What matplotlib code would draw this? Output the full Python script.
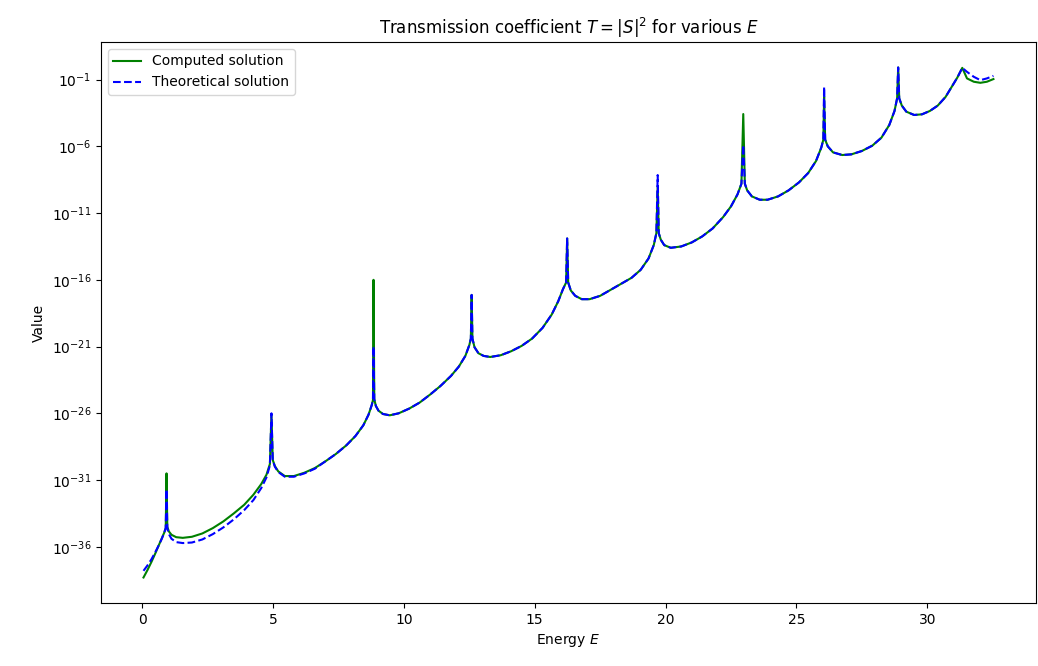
import numpy as np
import matplotlib.pyplot as plt
from matplotlib.ticker import NullLocator

# energies sampled for both curves (denser around the resonances)
energy = [0.05, 0.20, 0.35, 0.50, 0.63, 0.75, 0.84, 0.90, 0.93, 0.96,
          1.02, 1.12, 1.30, 1.55, 1.90, 2.30, 2.70, 3.10, 3.50, 3.90,
          4.25, 4.55, 4.75, 4.88, 4.94, 4.99, 5.07, 5.20, 5.45, 5.80,
          6.20, 6.60, 7.00, 7.40, 7.80, 8.15, 8.45, 8.65, 8.77, 8.82,
          8.84, 8.87, 8.93, 9.03, 9.20, 9.46, 9.80, 10.2, 10.6, 11.0,
          11.4, 11.8, 12.1, 12.35, 12.5, 12.56, 12.59, 12.62, 12.7, 12.85,
          13.05, 13.3, 13.7, 14.1, 14.5, 14.9, 15.3, 15.65, 15.9, 16.08,
          16.2, 16.24, 16.28, 16.38, 16.55, 16.8, 17.1, 17.5, 17.9, 18.3,
          18.7, 19.05, 19.35, 19.55, 19.65, 19.70, 19.74, 19.82, 19.95, 20.2,
          20.6, 21.0, 21.4, 21.8, 22.2, 22.5, 22.75, 22.9, 22.97, 23.03,
          23.12, 23.3, 23.6, 23.9, 24.3, 24.7, 25.1, 25.45, 25.75, 25.95,
          26.03, 26.06, 26.10, 26.2, 26.4, 26.75, 27.1, 27.5, 27.9, 28.25,
          28.55, 28.75, 28.85, 28.89, 28.93, 29.03, 29.2, 29.5, 29.8, 30.1,
          30.4, 30.7, 30.95, 31.15, 31.34, 31.52, 31.78, 32.03, 32.28, 32.53]

# log10 of T = |S|^2, numerical result
log_T_computed = [-38.3, -37.75, -37.15, -36.5, -35.9, -35.35, -34.95, -34.6, -30.5, -34.5,
                  -34.85, -35.1, -35.28, -35.33, -35.25, -35.0, -34.6, -34.1, -33.5, -32.85,
                  -32.1, -31.3, -30.6, -29.8, -26.1, -29.5, -29.95, -30.35, -30.7, -30.7,
                  -30.45, -30.1, -29.6, -29.05, -28.4, -27.7, -26.9, -26.1, -25.4, -25.0,
                  -16.0, -24.95, -25.45, -25.8, -26.05, -26.15, -26.0, -25.65, -25.2, -24.6,
                  -23.95, -23.2, -22.5, -21.7, -20.9, -20.4, -17.13, -20.4, -21.05, -21.5,
                  -21.7, -21.78, -21.65, -21.35, -20.95, -20.4, -19.6, -18.6, -17.6, -16.7,
                  -16.2, -12.9, -16.2, -16.8, -17.2, -17.45, -17.45, -17.2, -16.75, -16.3,
                  -15.85, -15.25, -14.4, -13.4, -12.5, -9.0, -12.5, -13.0, -13.4, -13.6,
                  -13.5, -13.2, -12.75, -12.15, -11.3, -10.5, -9.6, -8.8, -3.58, -8.8,
                  -9.3, -9.75, -10.0, -10.0, -9.75, -9.3, -8.7, -8.0, -7.1, -6.1,
                  -5.5, -2.29, -5.5, -6.0, -6.45, -6.65, -6.6, -6.35, -5.95, -5.35,
                  -4.4, -3.35, -2.4, -0.09, -2.4, -2.95, -3.4, -3.65, -3.6, -3.35,
                  -2.95, -2.3, -1.5, -0.85, -0.12, -0.91, -1.16, -1.24, -1.16, -0.96]

# log10 of T = |S|^2, analytic result
log_T_theory = [-37.8, -37.4, -36.95, -36.4, -35.9, -35.4, -34.95, -34.6, -31.7, -34.6,
                -35.05, -35.4, -35.65, -35.72, -35.68, -35.45, -35.05, -34.55, -33.95, -33.25,
                -32.5, -31.6, -30.8, -29.9, -26.0, -29.5, -30.0, -30.4, -30.75, -30.75,
                -30.5, -30.15, -29.6, -29.05, -28.4, -27.7, -26.9, -26.1, -25.4, -25.0,
                -21.0, -24.95, -25.45, -25.8, -26.05, -26.15, -26.0, -25.65, -25.2, -24.6,
                -23.95, -23.2, -22.5, -21.7, -20.9, -20.4, -17.13, -20.4, -21.05, -21.5,
                -21.7, -21.78, -21.65, -21.35, -20.95, -20.4, -19.6, -18.6, -17.6, -16.7,
                -16.2, -12.9, -16.2, -16.8, -17.2, -17.45, -17.45, -17.2, -16.75, -16.3,
                -15.85, -15.25, -14.4, -13.4, -12.5, -8.15, -12.5, -13.0, -13.4, -13.6,
                -13.5, -13.2, -12.75, -12.15, -11.3, -10.5, -9.6, -8.8, -5.9, -8.8,
                -9.3, -9.75, -10.0, -10.0, -9.75, -9.3, -8.7, -8.0, -7.1, -6.1,
                -5.5, -1.54, -5.5, -6.0, -6.45, -6.65, -6.6, -6.35, -5.95, -5.35,
                -4.4, -3.35, -2.4, -0.09, -2.4, -2.95, -3.4, -3.65, -3.6, -3.35,
                -2.95, -2.3, -1.5, -0.85, -0.12, -0.42, -0.79, -1.04, -0.91, -0.72]

E = np.array(energy)
T_comp = 10.0 ** np.array(log_T_computed)
T_theo = 10.0 ** np.array(log_T_theory)

fig, ax = plt.subplots(figsize=(10.38, 6.66), dpi=100)
fig.subplots_adjust(left=0.0973, right=0.998, top=0.937, bottom=0.0946)

ax.plot(E, T_comp, color='green', label='Computed solution')
ax.plot(E, T_theo, color='blue', linestyle='--', label='Theoretical solution')
ax.set_yscale('log')
ax.set_yticks([10.0 ** k for k in range(-36, 0, 5)])
ax.yaxis.set_minor_locator(NullLocator())

ax.set_title(r'Transmission coefficient $T = |S|^2$ for various $E$')
ax.set_xlabel(r'Energy $E$')
ax.set_ylabel('Value')
ax.legend(loc='upper left')

fig.savefig('out.png')
